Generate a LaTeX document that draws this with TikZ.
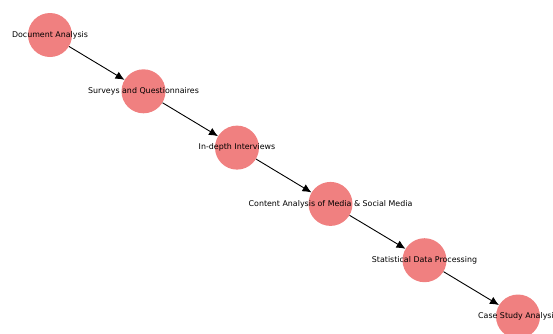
\documentclass[tikz,border=0pt]{standalone}
\usepackage{fontspec}
\setmainfont{DejaVu Sans}
\usetikzlibrary{arrows.meta}
\begin{document}
\begin{tikzpicture}[x=1pt,y=-1pt,
  method/.style={circle,fill={rgb,255:red,240;green,128;blue,128},minimum size=44pt,inner sep=0pt},
  lbl/.style={font=\fontsize{7.9}{9}\selectfont,text=black},
  link/.style={-{Latex[length=9pt,width=8pt]},line width=0.9pt,black}]
\useasboundingbox (0,0) rectangle (553,333);
\clip (0,0) rectangle (553,333);
\node[method] (n1) at (50,35) {};
\node[method] (n2) at (143.5,91.3) {};
\node[method] (n3) at (237,147.6) {};
\node[method] (n4) at (330.5,203.9) {};
\node[method] (n5) at (424.5,260.2) {};
\node[method] (n6) at (518,316.5) {};
\draw[link] (n1) -- (n2);
\draw[link] (n2) -- (n3);
\draw[link] (n3) -- (n4);
\draw[link] (n4) -- (n5);
\draw[link] (n5) -- (n6);
\node[lbl] at (n1) {Document Analysis};
\node[lbl] at (n2) {Surveys and Questionnaires};
\node[lbl] at (n3) {In-depth Interviews};
\node[lbl] at (n4) {Content Analysis of Media \& Social Media};
\node[lbl] at (n5) {Statistical Data Processing};
\node[lbl] at (n6) {Case Study Analysis};
\end{tikzpicture}
\end{document}
